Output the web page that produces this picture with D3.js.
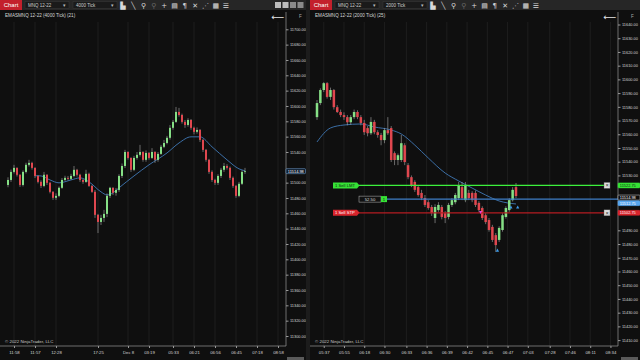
<!DOCTYPE html>
<html>
<head>
<meta charset="utf-8">
<script src="https://cdn.jsdelivr.net/npm/d3@7"></script>
<style>
  html, body { margin: 0; padding: 0; background: #111; }
  svg { display: block; font-family: "Liberation Sans", Arial, sans-serif; }
</style>
</head>
<body>
<svg id="chart" width="640" height="360"></svg>
<script>
// ---- left chart: MNQ 12-22, 4000 tick ----
const leftOpen = [11497,11503.5,11514,11519.25,11510.25,11497,11514,11523.25,11525.75,11519.25,
  11508.75,11501,11495.75,11510.25,11499.75,11488,11480.25,11482.75,11493.25,11503.5,
  11506.25,11505,11508.75,11516.75,11510.25,11503.5,11501,11511.5,11495.75,11488,
  11458,11448.75,11454,11459.25,11482.75,11493.25,11486.75,11490.5,11508.75,11521.75,
  11540,11532.25,11516.75,11532.25,11536.25,11540,11529.75,11538.75,11532.25,11540,
  11529.75,11537.5,11546.75,11551.75,11558.5,11571.5,11579.25,11592.25,11588.25,11579.25,
  11575.25,11581.75,11571.5,11566.25,11568.75,11555.75,11542.75,11529.75,11514,11503.5,
  11499.75,11508.75,11516.75,11521.75,11519.25,11506.25,11495.75,11482.75,11498.5,11514];
const leftHigh = [11507,11517,11523.25,11520,11511,11516,11526,11529.75,11527.25,11520,
  11510,11503,11514,11511,11501,11489,11486,11495,11506,11509,
  11508.75,11511.5,11521.75,11518,11511.5,11505,11516.75,11513,11497,11490.5,
  11459.25,11458,11464.5,11486,11494.5,11494,11493,11511,11525,11542.75,
  11541,11533,11535,11540,11549.25,11541,11542,11540,11545,11541,
  11540,11549.25,11555.75,11561,11575.25,11581.75,11598.75,11597.5,11590,11581.75,
  11584,11583,11573,11572,11570,11557,11544,11531,11516,11505,
  11511,11519.25,11525.75,11524,11521,11508,11497,11501,11516,11519.25];
const leftLow = [11494,11501,11512,11508,11494.5,11495,11512,11521,11517,11506,
  11499,11493,11494,11497,11486,11477.5,11477.5,11481,11492,11502,
  11503,11503.5,11507,11508,11501,11498.5,11499.75,11494.5,11486.75,11454,
  11434.25,11444.75,11448.75,11455,11480,11484,11483,11488,11506,11519,
  11530,11514,11515,11530,11534,11527.25,11527.25,11530,11531,11525.75,
  11527.25,11536.25,11545,11550,11556,11569,11578,11586,11577,11571.5,
  11573,11569,11563,11564,11553,11540,11527.25,11511.5,11501,11497,
  11497,11506,11514,11517,11503.5,11493.25,11480.25,11481,11497,11511.5];
const leftClose = [11503.5,11514,11519.25,11510.25,11497,11514,11523.25,11525.75,11519.25,11508.75,
  11501,11495.75,11510.25,11499.75,11488,11480.25,11482.75,11493.25,11503.5,11506.25,
  11505,11508.75,11516.75,11510.25,11503.5,11501,11511.5,11495.75,11488,11458,
  11448.75,11454,11459.25,11482.75,11493.25,11486.75,11490.5,11508.75,11521.75,11540,
  11532.25,11516.75,11532.25,11536.25,11540,11529.75,11538.75,11532.25,11540,11529.75,
  11537.5,11546.75,11551.75,11558.5,11571.5,11579.25,11592.25,11588.25,11579.25,11575.25,
  11581.75,11571.5,11566.25,11568.75,11555.75,11542.75,11529.75,11514,11503.5,11499.75,
  11508.75,11516.75,11521.75,11519.25,11506.25,11495.75,11482.75,11498.5,11514,11515];
const leftEmaIdx = [9,11,14,17,21,24,27,31,33,35,37,42,47,53,57,61,64,68,73,77,79];
const leftEmaVal = [11509,11508.75,11503.5,11499.75,11503.5,11506.25,11501,11488,11484,11486.75,
  11493.25,11508.75,11523.25,11538.75,11551.75,11559.75,11559.75,11546.75,11529.75,11518,11515.5];
const leftPriceTicks = d3.range(11300, 11701, 20);
const leftTimeIdx = [2, 9, 16, 30, 40, 47, 55, 62, 69, 76, 83, 90];
const leftTimeLabels = ['11:58','11:57','12:28','17:25','Dec 8','03:19','05:33','06:21','06:56','06:45','07:18','08:58'];

// ---- right chart: MNQ 12-22, 2000 tick ----
const rightOpen = [11572.5,11582.75,11592.25,11597.25,11587.25,11592.25,11579.75,11576.25,11574,11572.5,
  11568.75,11572.5,11576.25,11572.5,11568.25,11564.5,11560.75,11569,11561.5,11559.5,
  11555.75,11563,11564.5,11546.25,11541.25,11541.25,11552,11537.5,11528.75,11525.25,
  11521.5,11517.25,11513.5,11510.5,11507,11499,11504.75,11507,11502.5,11499.75,
  11508.5,11510.5,11513.5,11521.5,11512,11517.25,11517.25,11517.25,11510,11506.25,
  11501,11497.5,11492.5,11486.5,11483,11490.25,11499.75,11504.75,11512,11521.5];
const rightHigh = [11585,11593.5,11598,11598,11594,11593,11581.25,11578,11576,11574,
  11574,11578,11577.5,11574,11570.5,11566,11572.5,11570.5,11563,11561,
  11564.5,11572.5,11566,11547.5,11546,11559.5,11553.5,11539,11530,11526.5,
  11523,11519.5,11515.75,11512,11508.5,11509,11510.5,11508.5,11504,11510,
  11513.5,11517.25,11525.25,11525.25,11525.25,11519.5,11518.5,11519,11511.25,11507.5,
  11502.5,11499,11494,11488,11493,11502.5,11507.5,11513.5,11521.5,11524.5];
const rightLow = [11570.5,11581.25,11590.75,11586,11585,11578,11575.5,11572.5,11570.5,11566.5,
  11567,11571,11571,11566.5,11559.5,11558.5,11559.5,11560,11557.5,11552,
  11553.5,11559.5,11539.75,11537.5,11537.5,11539.75,11537.5,11527.25,11521.5,11518,
  11514.5,11512,11507,11505,11500.5,11495.25,11503.5,11498,11495.25,11498,
  11507,11509,11512,11512,11510.5,11512,11510.5,11507,11503.5,11497.5,
  11494.5,11489,11481.5,11474.25,11481.5,11489,11498.5,11503.5,11511,11513.5];
const rightClose = [11582.75,11592.25,11597.25,11587.25,11592.25,11579.75,11576.25,11574,11572.5,11568.75,
  11572.5,11576.25,11572.5,11568.25,11561.5,11560.75,11569,11561.5,11559.5,11555.75,
  11563,11560.75,11541.25,11541.25,11544.75,11553.5,11539.75,11528.75,11523,11519.5,
  11515.75,11513.5,11508.5,11506.25,11502.5,11507,11508.5,11499.75,11499,11508.5,
  11512,11515.75,11523,11513.5,11523,11513.5,11512,11508.5,11504.75,11499,
  11496,11490.25,11483,11479.25,11491.75,11501,11506.25,11512,11519.5,11515];
const rightEmaIdx = [0,4,8,13,17,22,25,29,33,38,42,46,50,54,59];
const rightEmaVal = [11554.4,11564.6,11566.75,11567.5,11565.3,11563.1,11560.2,11552.1,11542.7,11531.75,
  11526,11520.8,11515.7,11511.4,11509.2];
const rightPriceTicks = d3.range(11410, 11641, 10);
const rightTimeIdx = [2, 8, 14, 20, 26.5, 32.5, 38.5, 44.5, 50.5, 56.5, 62.5, 69, 75, 81, 87];
const rightTimeLabels = ['05:37','05:55','06:18','06:30','06:33','06:36','06:39','06:42','06:45','06:47','07:03','07:28','07:46','08:11','08:34'];

// orders / position on the right chart
const lastPrice = 11514.98;
const targetPrice = 11522.75;   // Sell LMT
const stopPrice = 11502.75;     // Sell STP
const entryPrice = 11512.75;    // position avg
const positionPnl = '52.50';
const execIdx = [48.5, 53.5, 57.5, 59.5];
const execPrice = [11503, 11475.5, 11507, 11507];
const execSide = ['sell', 'buy', 'buy', 'buy'];

const UP = '#86e086', DOWN = '#e0474f', WICK = '#a9a9a9', EMA = '#3f78b5';
const fmt = d3.format('.2f');
const svg = d3.select('#chart');

svg.append('rect').attr('width', 640).attr('height', 360).attr('fill', '#111');

function toolbar(x0, w, tickLabel, withButtons) {
  const g = svg.append('g').attr('transform', `translate(${x0},0)`);
  g.append('rect').attr('width', w).attr('height', 10).attr('fill', '#262626');
  g.append('rect').attr('width', 22).attr('height', 10).attr('fill', '#c3202c');
  g.append('text').attr('x', 11).attr('y', 7).attr('text-anchor', 'middle')
    .attr('font-size', 6).attr('fill', '#fff').text('Chart');
  [['MNQ 12-22', 25], [tickLabel, 73]].forEach(([t, x]) => {
    g.append('rect').attr('x', x).attr('y', 1.5).attr('width', 44).attr('height', 7)
      .attr('fill', '#1a1a1a').attr('stroke', '#3a3a3a').attr('stroke-width', 0.5);
    g.append('text').attr('x', x + 3).attr('y', 6.6).attr('font-size', 4.5).attr('fill', '#ccc').text(t);
    g.append('text').attr('x', x + 38).attr('y', 6.8).attr('font-size', 5).attr('fill', '#bbb').text('▾');
  });
  const icons = ['▙', '╲', '⚲', '⚲', '+', '▤', '¶', '✕', '⋰', '▦', '☰'];
  icons.forEach((c, i) => {
    g.append('text').attr('x', 123 + i * 10.3).attr('y', 7.6).attr('text-anchor', 'middle')
      .attr('font-family', 'DejaVu Sans').attr('font-size', 7)
      .attr('fill', i === 3 ? '#666' : '#d8d8d8').text(c);
  });
  if (withButtons) {
    [0, 1, 2, 3].forEach(i => {
      g.append('rect').attr('x', w - 31 + i * 7.5).attr('y', 2).attr('width', 6).attr('height', 6)
        .attr('fill', i < 2 ? '#bdbdbd' : '#8a8a8a');
    });
  }
}

function panel(cfg) {
  const { x0, w, axisX, xs, ys, o, h, l, c, bw } = cfg;
  const g = svg.append('g');
  g.append('rect').attr('x', x0).attr('y', 10).attr('width', w).attr('height', 350).attr('fill', '#0f0f0f');

  // vertical grid
  g.append('g').selectAll('line').data(cfg.timeIdx).join('line')
    .attr('x1', d => xs(d)).attr('x2', d => xs(d)).attr('y1', 22).attr('y2', 346)
    .attr('stroke', '#222').attr('stroke-width', 0.8);

  g.append('text').attr('x', x0 + 5).attr('y', 16.5).attr('font-size', 4.6).attr('fill', '#d5d5d5').text(cfg.title);
  g.append('text').attr('x', axisX - 8).attr('y', 20).attr('text-anchor', 'middle')
    .attr('font-family', 'DejaVu Sans').attr('font-size', 9).attr('fill', '#e6e6e6').text('⟵');
  g.append('text').attr('x', axisX + 13).attr('y', 18).attr('font-size', 4.5).attr('fill', '#aaa').text('F');
  g.append('text').attr('x', x0 + 5).attr('y', 342.5).attr('font-size', 4.4).attr('fill', '#c8c8c8')
    .text('© 2022 NinjaTrader, LLC');

  // ema
  g.append('path').datum(cfg.emaIdx.map((d, i) => [d, cfg.emaVal[i]]))
    .attr('fill', 'none').attr('stroke', EMA).attr('stroke-width', 0.9)
    .attr('d', d3.line().x(d => xs(d[0])).y(d => ys(d[1])).curve(d3.curveMonotoneX));

  // candles
  const idx = d3.range(c.length);
  g.append('g').selectAll('line').data(idx).join('line')
    .attr('x1', i => xs(i)).attr('x2', i => xs(i))
    .attr('y1', i => ys(h[i])).attr('y2', i => ys(l[i]))
    .attr('stroke', WICK).attr('stroke-width', 0.6);
  g.append('g').selectAll('rect').data(idx).join('rect')
    .attr('x', i => xs(i) - bw / 2).attr('width', bw)
    .attr('y', i => ys(Math.max(o[i], c[i])))
    .attr('height', i => Math.max(0.7, Math.abs(ys(o[i]) - ys(c[i]))))
    .attr('fill', i => c[i] >= o[i] ? UP : DOWN);

  // price axis - labels under a tag are hidden, as the platform does
  const visibleTicks = cfg.priceTicks.filter(p => cfg.tagYs.every(ty => Math.abs(ys(p) - ty) > 5));
  const ya = g.append('g').attr('transform', `translate(${axisX},0)`)
    .call(d3.axisRight(ys).tickValues(visibleTicks).tickFormat(fmt).tickSize(2.5).tickPadding(1.5));
  ya.select('.domain').remove();
  ya.selectAll('line').attr('stroke', '#9a9a9a');
  ya.selectAll('text').attr('fill', '#d6d6d6').attr('font-size', 3.9).attr('font-family', 'Liberation Sans');
  g.append('line').attr('x1', axisX).attr('x2', axisX).attr('y1', 12).attr('y2', 346)
    .attr('stroke', '#9a9a9a').attr('stroke-width', 0.7);

  // time axis
  g.append('line').attr('x1', x0).attr('x2', axisX).attr('y1', 346).attr('y2', 346)
    .attr('stroke', '#9a9a9a').attr('stroke-width', 0.7);
  const xa = g.append('g').attr('transform', 'translate(0,346)')
    .call(d3.axisBottom(xs).tickValues(cfg.timeIdx).tickFormat((d, i) => cfg.timeLabels[i]).tickSize(2).tickPadding(2.5));
  xa.select('.domain').remove();
  xa.selectAll('line').attr('stroke', '#9a9a9a');
  xa.selectAll('text').attr('fill', '#d6d6d6').attr('font-size', 4.3).attr('font-family', 'Liberation Sans');

  // scrollbar stub
  g.append('rect').attr('x', x0 + w - 19).attr('y', 357).attr('width', 17).attr('height', 3).attr('fill', '#5a5a5a');
  return g;
}

function priceTag(g, x, y, w, fill, stroke, color, text) {
  g.append('rect').attr('x', x).attr('y', y - 2.5).attr('width', w).attr('height', 5)
    .attr('fill', fill).attr('stroke', stroke).attr('stroke-width', 0.5).attr('rx', 0.8);
  g.append('text').attr('x', x + 1.8).attr('y', y + 1.4).attr('font-size', 3.9).attr('fill', color).text(text);
}

// ---------- left ----------
toolbar(0, 306, '4000 Tick', true);
const xL = d3.scaleLinear().domain([0, 79]).range([8, 245]);
const yL = d3.scaleLinear().domain([11300, 11700]).range([336, 29.3]);
const gL = panel({
  x0: 0, w: 306, axisX: 286, xs: xL, ys: yL,
  o: leftOpen, h: leftHigh, l: leftLow, c: leftClose, bw: 2,
  emaIdx: leftEmaIdx, emaVal: leftEmaVal,
  priceTicks: leftPriceTicks, timeIdx: leftTimeIdx, timeLabels: leftTimeLabels,
  tagYs: [yL(lastPrice)],
  title: 'EMASMNQ 12-22 (4000 Tick) (21)'
});
priceTag(gL, 286, yL(lastPrice), 19.5, '#0d1b2b', '#7fb4ea', '#fff', fmt(lastPrice));

// separator
svg.append('rect').attr('x', 306).attr('y', 0).attr('width', 4).attr('height', 360).attr('fill', '#1c1c1c');

// ---------- right ----------
toolbar(310, 330, '2000 Tick', false);
const xR = d3.scaleLinear().domain([0, 59]).range([317, 516]);
const yR = d3.scaleLinear().domain([11410, 11640]).range([340.1, 24.5]);
const tgtY = yR(targetPrice), stpY = yR(stopPrice), entY = yR(entryPrice);
const lastY = yR(lastPrice) + 1.5;
const gR = panel({
  x0: 310, w: 330, axisX: 618, xs: xR, ys: yR,
  o: rightOpen, h: rightHigh, l: rightLow, c: rightClose, bw: 2.5,
  emaIdx: rightEmaIdx, emaVal: rightEmaVal,
  priceTicks: rightPriceTicks, timeIdx: rightTimeIdx, timeLabels: rightTimeLabels,
  tagYs: [tgtY, lastY, lastY + 5.6, stpY],
  title: 'EMASMNQ 12-22 (2000 Tick) (25)'
});

// order lines
gR.append('line').attr('x1', 359).attr('x2', 604).attr('y1', tgtY).attr('y2', tgtY)
  .attr('stroke', '#3cf03c').attr('stroke-width', 1.2);
gR.append('line').attr('x1', 359).attr('x2', 604).attr('y1', stpY).attr('y2', stpY)
  .attr('stroke', '#b51c22').attr('stroke-width', 1.2);
gR.append('line').attr('x1', 387).attr('x2', 618).attr('y1', entY).attr('y2', entY)
  .attr('stroke', '#3f7fc8').attr('stroke-width', 1.2);

function orderTag(y, fill, color, text) {
  gR.append('path')
    .attr('d', `M333,${y - 3}H357L359.5,${y}L357,${y + 3}H333Z`)
    .attr('fill', fill);
  gR.append('text').attr('x', 335).attr('y', y + 1.6).attr('font-size', 4.2).attr('fill', color).text(text);
}
orderTag(tgtY, '#36e236', '#102010', '1  Sell LMT');
orderTag(stpY, '#d8242c', '#fff', '1  Sell STP');
gR.append('rect').attr('x', 359).attr('y', entY - 3).attr('width', 22).attr('height', 6)
  .attr('fill', '#111').attr('stroke', '#bbb').attr('stroke-width', 0.5);
gR.append('text').attr('x', 370).attr('y', entY + 1.6).attr('text-anchor', 'middle')
  .attr('font-size', 4.2).attr('fill', '#ddd').text(positionPnl);
gR.append('rect').attr('x', 381).attr('y', entY - 3).attr('width', 6).attr('height', 6).attr('fill', '#36e236');
gR.append('text').attr('x', 384).attr('y', entY + 1.6).attr('text-anchor', 'middle')
  .attr('font-size', 4.2).attr('fill', '#111').text('1');

[tgtY, stpY].forEach(y => {
  gR.append('rect').attr('x', 604).attr('y', y - 3).attr('width', 6).attr('height', 6)
    .attr('fill', '#ddd').attr('stroke', '#555').attr('stroke-width', 0.4);
  gR.append('text').attr('x', 607).attr('y', y + 2).attr('text-anchor', 'middle')
    .attr('font-size', 5.5).attr('fill', '#333').text('×');
});

// executions
gR.append('g').selectAll('path').data(execIdx).join('path')
  .attr('transform', (d, i) => `translate(${xR(d)},${yR(execPrice[i])})`)
  .attr('d', (d, i) => execSide[i] === 'sell' ? 'M-1.6,-1.6H1.6L0,1.6Z' : 'M-1.6,1.6H1.6L0,-1.6Z')
  .attr('fill', (d, i) => execSide[i] === 'sell' ? '#e040e0' : '#3d9be9');

// axis tags (stacked like the platform does when they collide)
priceTag(gR, 618, tgtY, 22, '#36e236', '#36e236', '#102010', fmt(targetPrice));
priceTag(gR, 618, lastY, 22, '#0b0b0b', '#ddd', '#fff', fmt(lastPrice));
priceTag(gR, 618, lastY + 5.6, 22, '#57a5ee', '#57a5ee', '#fff', fmt(entryPrice));
priceTag(gR, 618, stpY, 22, '#d8242c', '#d8242c', '#fff', fmt(stopPrice));
</script>
</body>
</html>
